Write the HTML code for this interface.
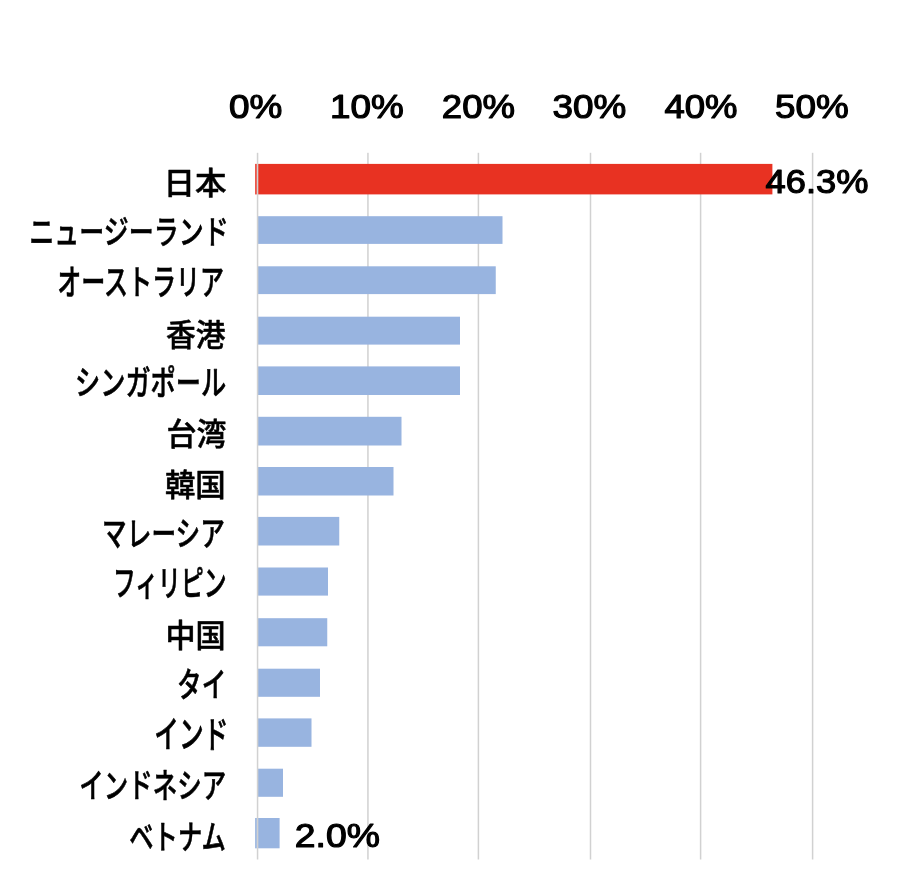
<!DOCTYPE html>
<html lang="ja">
<head>
<meta charset="utf-8">
<title>国別比較グラフ</title>
<style>
html,body{margin:0;padding:0;background:#fff;}
body{width:916px;height:886px;overflow:hidden;}
svg{display:block;}
.t{font-family:"Liberation Sans","Noto Sans CJK JP",sans-serif;font-size:30px;fill:#000;}
</style>
</head>
<body>
<svg width="916" height="886" viewBox="0 0 916 886">
<defs><filter id="soft" x="0" y="0" width="916" height="886" filterUnits="userSpaceOnUse"><feGaussianBlur stdDeviation="0.45"/></filter></defs>
<rect x="0" y="0" width="916" height="886" fill="#ffffff"/>
<g filter="url(#soft)">
<g class="grid" fill="#d1d1d1">
<rect x="367.18" y="152.8" width="1.5" height="706.7"/>
<rect x="477.65" y="152.8" width="1.5" height="706.7"/>
<rect x="589.75" y="152.8" width="1.5" height="706.7"/>
<rect x="699.85" y="152.8" width="1.5" height="706.7"/>
<rect x="811.85" y="152.8" width="1.5" height="706.7"/>
</g>
<g class="bars">
<rect x="255" y="163.9" width="517.4" height="30.5" fill="#e83323"/>
<rect x="258" y="216.2" width="244.5" height="27.7" fill="#98b4e0"/>
<rect x="258" y="266.3" width="237.75" height="27.8" fill="#98b4e0"/>
<rect x="258" y="316.7" width="202" height="27.9" fill="#98b4e0"/>
<rect x="258" y="366.4" width="202" height="28.6" fill="#98b4e0"/>
<rect x="258" y="416.8" width="143.5" height="28.7" fill="#98b4e0"/>
<rect x="258" y="467.0" width="135.5" height="28.5" fill="#98b4e0"/>
<rect x="258" y="516.9" width="81.25" height="28.6" fill="#98b4e0"/>
<rect x="258" y="567.5" width="70" height="28.1" fill="#98b4e0"/>
<rect x="258" y="618.2" width="69.25" height="28.1" fill="#98b4e0"/>
<rect x="258" y="668.7" width="62" height="28.1" fill="#98b4e0"/>
<rect x="258" y="718.4" width="53.5" height="28.4" fill="#98b4e0"/>
<rect x="258" y="768.7" width="25" height="28.1" fill="#98b4e0"/>
<rect x="255" y="818.0" width="24.6" height="30.3" fill="#98b4e0"/>
</g>
<rect x="255" y="163.9" width="2" height="30.5" fill="#fff" opacity="0.18"/>
<rect x="255" y="818" width="2" height="30.3" fill="#fff" opacity="0.12"/>
<rect x="256.81" y="152.8" width="1.5" height="706.7" fill="#d1d1d1"/>
<g class="t">
<text font-weight="500" stroke="#000" stroke-width="0.5" stroke-linejoin="round" transform="translate(163.50 194.18) scale(1.0509 1.0050)">日本</text>
<text font-weight="500" stroke="#000" stroke-width="0.5" stroke-linejoin="round" transform="translate(29.33 244.41) scale(0.8333 1.0981)">ニュージーランド</text>
<text font-weight="500" stroke="#000" stroke-width="0.5" stroke-linejoin="round" transform="translate(57.15 294.71) scale(0.8012 1.1630)">オーストラリア</text>
<text font-weight="500" stroke="#000" stroke-width="0.5" stroke-linejoin="round" transform="translate(166.01 346.08) scale(0.9915 1.0300)">香港</text>
<text font-weight="500" stroke="#000" stroke-width="0.5" stroke-linejoin="round" transform="translate(74.98 394.80) scale(0.8409 1.1345)">シンガポール</text>
<text font-weight="500" stroke="#000" stroke-width="0.5" stroke-linejoin="round" transform="translate(166.50 445.36) scale(1.0000 1.0217)">台湾</text>
<text font-weight="500" stroke="#000" stroke-width="0.5" stroke-linejoin="round" transform="translate(164.99 495.58) scale(1.0132 1.0300)">韓国</text>
<text font-weight="500" stroke="#000" stroke-width="0.5" stroke-linejoin="round" transform="translate(102.11 546.09) scale(0.8219 1.1212)">マレーシア</text>
<text font-weight="500" stroke="#000" stroke-width="0.5" stroke-linejoin="round" transform="translate(112.96 596.12) scale(0.7604 1.1929)">フィリピン</text>
<text font-weight="500" stroke="#000" stroke-width="0.5" stroke-linejoin="round" transform="translate(165.49 646.51) scale(1.0045 1.0467)">中国</text>
<text font-weight="500" stroke="#000" stroke-width="0.5" stroke-linejoin="round" transform="translate(177.11 696.84) scale(0.8194 1.1214)">タイ</text>
<text font-weight="500" stroke="#000" stroke-width="0.5" stroke-linejoin="round" transform="translate(154.35 748.23) scale(0.8235 1.2360)">インド</text>
<text font-weight="500" stroke="#000" stroke-width="0.5" stroke-linejoin="round" transform="translate(79.37 798.34) scale(0.8153 1.1214)">インドネシア</text>
<text font-weight="500" stroke="#000" stroke-width="0.5" stroke-linejoin="round" transform="translate(129.19 848.98) scale(0.8120 1.1115)">ベトナム</text>
<text font-weight="400" stroke="#000" stroke-width="1.05" stroke-linejoin="round" transform="translate(229.07 117.78) scale(1.2310 1.1227)">0%</text>
<text font-weight="400" stroke="#000" stroke-width="1.05" stroke-linejoin="round" transform="translate(330.04 117.78) scale(1.2281 1.1182)">10%</text>
<text font-weight="400" stroke="#000" stroke-width="1.05" stroke-linejoin="round" transform="translate(441.78 117.78) scale(1.2198 1.1182)">20%</text>
<text font-weight="400" stroke="#000" stroke-width="1.05" stroke-linejoin="round" transform="translate(552.52 117.78) scale(1.2284 1.1182)">30%</text>
<text font-weight="400" stroke="#000" stroke-width="1.05" stroke-linejoin="round" transform="translate(664.50 117.78) scale(1.2161 1.1182)">40%</text>
<text font-weight="400" stroke="#000" stroke-width="1.05" stroke-linejoin="round" transform="translate(775.02 117.78) scale(1.2284 1.1182)">50%</text>
<text font-weight="400" stroke="#000" stroke-width="1.05" stroke-linejoin="round" transform="translate(765.60 193.09) scale(1.2094 1.1091)">46.3%</text>
<text font-weight="400" stroke="#000" stroke-width="1.05" stroke-linejoin="round" transform="translate(294.86 847.37) scale(1.2433 1.1318)">2.0%</text>
</g>
</g>
</svg>
</body>
</html>
